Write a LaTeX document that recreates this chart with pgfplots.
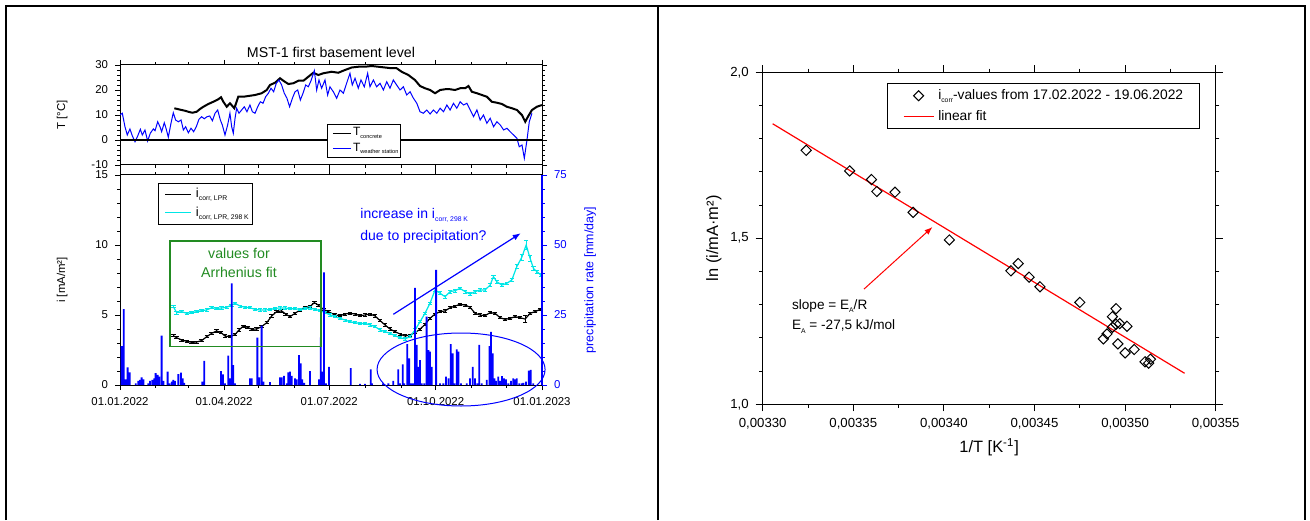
\documentclass[border=0pt]{standalone}
\usepackage{fontspec}
\setmainfont{Liberation Sans}
\usepackage{pgfplots}
\pgfplotsset{compat=1.18}
\usetikzlibrary{arrows.meta}
\definecolor{fitgreen}{RGB}{34,139,34}
\definecolor{icyan}{RGB}{0,230,230}
\newcommand{\sub}[1]{\raisebox{-1.6pt}{\fontsize{3.4}{4}\selectfont #1}}
\newcommand{\tsub}[1]{\raisebox{-1.2pt}{\fontsize{2.8}{3}\selectfont #1}}
\pgfplotsset{
 legTa/.style={legend image code/.code={\path[draw=none] (0pt,0pt) -- (11.6pt,0pt); \draw[draw=black, line width=0.5pt] (2.8pt,0pt) -- (11.6pt,0pt);}},
 legTb/.style={legend image code/.code={\path[draw=none] (0pt,0pt) -- (11.6pt,0pt); \draw[draw=blue, line width=0.5pt] (2.8pt,0pt) -- (11.6pt,0pt);}},
 legIa/.style={legend image code/.code={\path[draw=none] (0pt,0pt) -- (16.65pt,0pt); \draw[draw=black, line width=0.6pt] (3.65pt,0pt) -- (16.65pt,0pt);}},
 legIb/.style={legend image code/.code={\path[draw=none] (0pt,0pt) -- (16.65pt,0pt); \draw[draw=icyan, line width=0.6pt] (3.65pt,0pt) -- (16.65pt,0pt);}},
 legD/.style={legend image code/.code={\path[draw=none] (0pt,0pt) -- (23pt,0pt); \draw[draw=black, fill=white, line width=0.5pt] (15.5pt,2.5pt) -- (18pt,0pt) -- (15.5pt,-2.5pt) -- (13pt,0pt) -- cycle;}},
 legR/.style={legend image code/.code={\path[draw=none] (0pt,0pt) -- (23pt,0pt); \draw[draw=red, line width=0.6pt] (8pt,0pt) -- (23pt,0pt);}},
}
\begin{document}
\begin{tikzpicture}
\useasboundingbox (0,0) rectangle (655pt,260pt);
\draw[line width=1pt] (3pt,0) -- (3pt,256.75pt) -- (652.5pt,256.75pt) -- (652.5pt,0);
\draw[line width=1pt] (329pt,0) -- (329pt,256.75pt);
\node[font=\fontsize{7.1}{8}\selectfont] at (165.5pt,234pt) {MST-1 first basement level};

% ---------- top panel: temperature ----------
\begin{axis}[
 at={(60pt,177.5pt)}, anchor=south west, scale only axis, width=211pt, height=50pt,
 xmin=0, xmax=365, ymin=-10, ymax=30,
 xtick={0,90,181,273,365}, xticklabels={,,,,}, minor xtick={31,59,120,151,212,243,304,334},
 ytick={-10,0,10,20,30}, yticklabels={-10,0,10,20,30}, minor y tick num=4,
 tick align=outside, major tick length=2.5pt, minor tick length=1.3pt,
 tick style={black, line width=0.4pt},
 tick label style={font=\fontsize{5.7}{6}\selectfont},
 axis line style={line width=0.5pt},
 ylabel={T [°C]}, ylabel style={at={(rel axis cs:-0.137,0.5)}, anchor=center, font=\fontsize{5.7}{6}\selectfont},
 legend style={at={(rel axis cs:0.4905,0.41)}, anchor=north west, font=\fontsize{6}{6.5}\selectfont,
   inner xsep=0pt, inner ysep=0.6pt, row sep=0pt, nodes={inner xsep=1pt, inner ysep=1pt}},
 legend cell align=left,
]
\addplot[black, line width=1pt, legTa] coordinates {
(47.0,12.7) (50.5,12.3) (53.3,12.0) (56.2,11.7) (59.1,11.3) (62.6,10.9) (66.3,11.3) (69.2,12.4)
(72.1,13.3) (76.4,14.4) (80.7,15.3) (85.0,16.3) (87.4,17.1) (89.4,15.3) (92.3,13.3) (95.1,14.7)
(98.9,12.7) (102.3,17.3) (106.7,17.3) (111.0,17.6) (116.8,18.0) (122.5,18.7) (126.9,20.0)
(129.7,22.0) (134.1,22.9) (138.4,24.7) (141.3,23.7) (145.6,22.4) (149.9,22.7) (154.2,23.7)
(158.6,23.7) (162.9,25.3) (167.2,26.9) (171.5,26.0) (175.9,26.7) (183.1,27.3) (188.8,26.9)
(194.6,28.0) (200.4,29.0) (206.1,29.3) (211.9,29.3) (217.6,29.6) (223.4,29.3) (229.2,29.0)
(234.9,28.7) (239.3,28.7) (243.6,27.3) (249.4,26.0) (255.1,24.0) (259.5,21.6) (263.8,20.7)
(268.2,20.0) (272.5,18.7) (276.9,20.0) (281.2,20.3) (285.5,20.3) (289.8,20.0) (294.2,20.7)
(298.5,20.7) (301.4,21.6) (304.3,19.3) (308.7,18.7) (313.0,18.0) (317.3,17.3) (321.6,15.3)
(326.0,14.9) (330.3,14.4) (334.6,13.3) (339.0,12.7) (343.3,12.0) (347.6,10.0) (350.5,7.3)
(352.8,9.3) (356.3,12.0) (360.6,13.3) (364.9,14.0)};
\addlegendentry{T\tsub{concrete}}
\addplot[blue, line width=0.5pt, legTb] coordinates {
(0,10) (2.0,10.7) (4.3,5.3) (6.3,2) (8.6,4.4) (10.7,1.6) (13.0,-0.7) (15.3,1.6) (17.6,4.3)
(19.3,2) (21.6,4) (23.9,-0.4) (26.2,2.7) (28.8,4.4) (30.3,3.7) (32.6,7.3) (34.6,5.3) (36.0,3.3)
(38.3,6.9) (39.8,4.7) (41.8,1.1) (44.1,6.7) (46.1,10.9) (48.1,8) (50.5,7.3) (52.8,8) (54.8,4)
(56.8,5.3) (59.1,2.9) (61.4,4.7) (63.7,3.3) (66.0,5.3) (68.3,8.3) (70.6,9.3) (72.9,8.5)
(75.2,9.3) (77.6,9.6) (79.9,7.7) (82.2,10.7) (84.5,12) (86.8,8) (88.5,6) (90.8,2) (93.1,6)
(95.1,10.7) (96.6,5.3) (98.0,2.7) (99.5,8.7) (100.9,12.7) (102.9,10.7) (105.2,12) (107.5,13.3)
(109.8,11.3) (112.4,14) (114.5,11.3) (116.8,10.7) (119.1,13.3) (121.4,15.3) (123.7,14.7)
(126.0,17.3) (128.3,18.7) (130.6,20.7) (132.9,19.3) (135.2,22.7) (137.5,24) (139.8,22)
(142.1,18.7) (144.4,16.7) (146.7,13.3) (149.1,16.7) (151.4,19.3) (153.7,20) (156.0,16)
(158.3,18.7) (160.6,22) (162.9,21.3) (165.2,23.7) (168.1,27.7) (170.1,20) (172.1,24)
(174.4,20.7) (177.3,24) (179.6,18) (181.6,21.3) (184.5,19.3) (187.4,16.7) (190.3,20)
(193.2,18.7) (196.0,22.7) (198.9,26.7) (200.9,22) (203.3,24.7) (206.1,20.7) (208.4,24)
(211.3,21.3) (214.2,26.7) (216.2,21.3) (219.1,24) (222.0,21.3) (224.9,22.7) (227.8,20)
(230.7,23.3) (233.5,20.7) (236.4,24) (239.3,22) (242.2,20) (245.1,21.3) (248.0,18)
(250.9,19.3) (253.8,16.7) (256.7,14.7) (259.5,11.3) (262.4,10.7) (265.3,12) (268.2,10.4)
(271.1,12) (274.0,10.7) (276.9,12.7) (279.8,11.3) (282.7,14) (285.5,12) (288.4,14.7)
(291.3,12.7) (294.2,15.3) (297.1,14) (300.0,14.7) (302.9,12) (305.8,9.3) (308.7,12) (311.5,8)
(314.4,10) (317.3,6.7) (320.2,8.7) (323.1,5.3) (326.0,7.3) (328.9,6) (331.8,4) (334.7,4.7)
(337.5,3.3) (340.4,2) (343.3,0.7) (345.3,-2.7) (347.7,-2) (349.7,-7.3) (352.0,0) (354.0,7.3)
(356.3,10.7)};
\addlegendentry{T\tsub{weather station}}
\addplot[black, line width=0.6pt, forget plot] coordinates {(0,0) (365,0)};
\end{axis}

% ---------- bottom panel: corrosion current ----------
\begin{axis}[
 at={(60pt,67.5pt)}, anchor=south west, scale only axis, width=211pt, height=105pt,
 xmin=0, xmax=365, ymin=0, ymax=15,
 xtick={0,90,181,273,365}, xticklabels={01.01.2022,01.04.2022,01.07.2022,01.10.2022,01.01.2023},
 minor xtick={31,59,120,151,212,243,304,334},
 ytick={0,5,10,15}, yticklabels={0,5,10,15}, minor y tick num=4, ytick pos=left,
 tick align=outside, major tick length=2.5pt, minor tick length=1.3pt,
 tick style={black, line width=0.4pt},
 tick label style={font=\fontsize{5.7}{6}\selectfont},
 axis line style={line width=0.5pt},
 ylabel={i [mA/m²]}, ylabel style={at={(rel axis cs:-0.137,0.5)}, anchor=center, font=\fontsize{5.7}{6}\selectfont},
 legend style={at={(rel axis cs:0.0893,0.963)}, anchor=north west, font=\fontsize{6.5}{7}\selectfont,
   inner xsep=0pt, inner ysep=1pt, row sep=0pt, nodes={inner xsep=2pt, inner ysep=1.5pt}},
 legend cell align=left,
]
\addplot[black, line width=0.6pt, legIa, error bars/.cd, y dir=both, y explicit,
  error bar style={line width=0.4pt}, error mark options={rotate=90, mark size=1.1pt, line width=0.4pt}]
 table[x index=0, y index=1, y error index=2] {
x y e
46.1 3.52 0.08
49.0 3.38 0.08
53.3 3.21 0.08
57.7 3.12 0.08
62.0 3.05 0.08
66.3 3.07 0.08
70.6 3.17 0.08
75.0 3.45 0.08
79.3 3.69 0.08
83.6 3.86 0.08
87.4 3.74 0.08
90.8 3.50 0.08
95.1 3.45 0.08
99.5 3.60 0.08
102.9 3.93 0.08
106.7 4.21 0.08
110.4 4.12 0.08
113.9 3.98 0.08
118.2 4.00 0.08
122.5 4.17 0.08
126.9 4.45 0.08
131.2 4.93 0.08
135.5 5.24 0.08
139.8 5.29 0.08
143.3 5.07 0.08
147.0 4.88 0.08
151.4 5.12 0.08
155.7 5.36 0.08
160.0 5.55 0.08
164.3 5.60 0.08
168.1 5.88 0.08
171.5 5.71 0.08
175.9 5.40 0.08
180.2 5.24 0.08
186.0 5.00 0.08
190.3 4.95 0.08
194.6 5.07 0.08
198.9 5.12 0.08
203.3 5.07 0.08
207.6 4.95 0.08
211.9 5.00 0.08
216.2 5.07 0.08
220.6 4.93 0.08
224.9 4.60 0.08
229.2 4.29 0.08
233.5 4.00 0.08
237.9 3.81 0.08
242.2 3.64 0.08
246.5 3.50 0.08
250.8 3.57 0.08
255.2 3.74 0.08
259.5 3.98 0.08
263.8 4.33 0.08
268.1 4.76 0.08
272.5 5.07 0.08
276.8 5.24 0.08
281.1 5.29 0.08
285.5 5.52 0.08
289.8 5.64 0.08
294.1 5.76 0.08
298.5 5.71 0.08
302.8 5.55 0.08
307.1 5.12 0.08
311.4 5.00 0.08
315.8 4.95 0.08
320.1 5.17 0.08
324.4 5.12 0.08
328.7 4.81 0.08
333.1 4.69 0.08
337.4 4.76 0.08
341.7 4.88 0.08
346.0 4.81 0.08
350.4 4.71 0.25
354.7 5.12 0.08
359.0 5.24 0.08
363.3 5.40 0.08
};
\addlegendentry{i\sub{corr, LPR}}
\addplot[icyan, line width=0.6pt, legIb, error bars/.cd, y dir=both, y explicit,
  error bar style={line width=0.4pt}, error mark options={rotate=90, mark size=1.1pt, line width=0.4pt}]
 table[x index=0, y index=1, y error index=2] {
x y e
46.1 5.60 0.08
49.0 5.17 0.10
53.3 5.24 0.08
57.7 5.12 0.08
62.0 5.17 0.08
66.3 5.24 0.08
70.6 5.31 0.08
75.0 5.36 0.08
79.3 5.52 0.08
83.6 5.48 0.08
87.9 5.50 0.08
92.3 5.55 0.08
96.6 5.71 0.08
99.5 5.83 0.10
103.8 5.64 0.08
108.1 5.55 0.08
112.4 5.52 0.08
116.8 5.40 0.08
121.1 5.36 0.08
125.4 5.36 0.08
129.7 5.38 0.08
134.1 5.48 0.08
138.4 5.50 0.08
142.7 5.50 0.08
147.0 5.45 0.08
151.4 5.45 0.08
155.7 5.40 0.08
160.0 5.45 0.08
164.3 5.50 0.08
168.7 5.40 0.08
173.0 5.31 0.08
177.3 5.17 0.08
181.6 5.00 0.08
186.0 4.88 0.08
190.3 4.76 0.08
194.6 4.64 0.08
198.9 4.52 0.08
203.3 4.45 0.08
207.6 4.40 0.08
211.9 4.40 0.08
216.2 4.29 0.08
220.6 4.17 0.08
224.9 3.93 0.08
229.2 3.81 0.08
233.5 3.69 0.08
237.9 3.52 0.08
242.2 3.38 0.08
246.5 3.29 0.08
250.8 3.45 0.08
255.2 3.93 0.08
259.5 4.52 0.08
263.8 5.12 0.10
268.1 5.83 0.10
272.5 6.79 0.10
276.8 6.55 0.10
281.1 6.31 0.10
285.5 6.67 0.10
289.8 6.74 0.10
294.1 6.90 0.10
298.5 6.67 0.10
302.8 6.50 0.10
307.1 6.67 0.10
311.4 6.79 0.10
315.8 6.79 0.10
320.1 7.14 0.10
323.0 7.74 0.12
325.9 7.38 0.10
330.2 7.14 0.10
334.5 7.26 0.10
338.9 7.50 0.10
343.2 8.45 0.15
347.5 9.12 0.20
351.3 10.00 0.30
354.7 9.05 0.20
357.6 8.33 0.12
360.5 8.10 0.10
364.0 7.86 0.10
};
\addlegendentry{i\sub{corr, LPR, 298 K}}
\end{axis}

% ---------- bottom panel: precipitation (right axis) ----------
\begin{axis}[
 at={(60pt,67.5pt)}, anchor=south west, scale only axis, width=211pt, height=105pt,
 xmin=0, xmax=365, ymin=0, ymax=75,
 axis y line*=right, axis x line=none,
 ytick={0,25,50,75}, yticklabels={0,25,50,75}, minor y tick num=4,
 tick align=outside, major tick length=2.5pt, minor tick length=1.3pt,
 y tick style={blue, line width=0.4pt},
 y axis line style={blue, line width=0.6pt},
 yticklabel style={text=blue, font=\fontsize{5.7}{6}\selectfont},
 ylabel={precipitation rate [mm/day]},
 ylabel style={at={(rel axis cs:1.114,0.5)}, anchor=center, text=blue, font=\fontsize{6.2}{7}\selectfont},
 clip=false,
]
\addplot[ybar, bar width=0.9pt, fill=blue, draw=none] coordinates {
(1.4,13.9) (3.2,27.1) (4.9,2.0) (6.6,6.3) (8.4,4.5) (13.6,0.6) (15.9,1.5) (17.3,1.8) (18.7,2.7)
(20.2,2.0) (24.5,0.6) (25.9,1.5) (28.0,1.8) (29.7,2.4) (30.8,4.2) (32.6,3.6) (34.0,3.0)
(36.0,17.6) (37.5,1.5) (41.2,4.8) (42.7,0.6) (44.7,1.2) (46.1,1.8) (47.6,1.5) (50.5,3.9)
(52.8,4.4) (54.2,2.4) (55.6,0.8) (71.2,1.2) (72.9,8.6) (87.4,5.0) (89.1,3.8) (90.8,0.6)
(93.7,10.5) (95.1,2.4) (96.6,36.3) (98.0,7.1) (99.5,0.6) (112.4,2.4) (113.9,2.4) (118.8,16.9)
(120.5,2.7) (122.5,21.2) (124.0,1.2) (129.7,1.0) (138.4,2.7) (139.8,2.7) (141.8,3.3) (144.2,0.6)
(145.6,4.5) (147.0,4.8) (148.5,3.3) (151.4,2.4) (152.8,2.0) (154.8,10.7) (156.3,7.7) (157.7,2.0)
(159.4,0.8) (164.3,5.0) (172.1,2.0) (173.6,17.0) (175.0,4.8) (176.4,40.2) (178.2,0.6) (180.8,6.5)
(199.5,6.0) (207.6,0.4) (211.9,0.4) (216.8,5.6) (217.9,0.6) (227.5,0.6) (232.1,0.6) (236.4,1.5)
(240.7,5.6) (242.2,0.6) (244.5,7.4) (245.9,0.6) (248.5,14.6) (250.2,9.5) (252.0,0.6) (253.7,0.6)
(255.2,34.7) (256.6,14.3) (258.0,6.5) (259.5,8.9) (260.9,0.6) (263.2,0.6) (265.2,24.4) (266.7,12.5)
(268.1,11.9) (269.6,6.5) (273.4,41.1) (276.8,0.6) (279.7,0.6) (282.0,3.0) (284.1,2.4) (286.1,14.6)
(287.8,11.3) (289.3,0.6) (291.3,12.7) (292.7,11.9) (295.0,0.6) (299.9,0.6) (302.8,2.4) (305.1,6.5)
(307.1,2.4) (309.1,0.6) (310.8,14.3) (312.8,0.6) (317.2,1.8) (319.5,13.9) (320.9,19.0) (322.4,11.3)
(323.8,2.4) (325.2,1.5) (327.2,3.0) (328.7,1.5) (330.4,3.2) (332.2,2.4) (333.9,2.0) (335.9,0.6)
(338.2,1.5) (340.2,2.4) (341.7,2.0) (343.1,2.4) (345.4,0.6) (347.5,0.6) (348.9,0.8) (351.2,1.2)
(353.5,5.1) (355.2,5.4) (357.5,0.6)};
\draw[fitgreen, line width=0.7pt] (axis cs:43.3,13.7) rectangle (axis cs:173.9,51.45);
\node[text=fitgreen, align=center, font=\fontsize{7.1}{9.5}\selectfont] at (axis cs:102.9,43.75) {values for\\Arrhenius fit};
\node[text=blue, align=left, anchor=west, font=\fontsize{7}{10.8}\selectfont, inner sep=0pt] at (axis cs:207.6,56.85) {increase in i\sub{corr, 298 K}\\due to precipitation?};
\draw[blue, line width=0.6pt, -{Latex[length=4pt,width=3pt]}] (axis cs:236.4,25.25) -- (axis cs:346.6,54.2);
\draw[blue, line width=0.5pt] (axis cs:295,5.535) ellipse [x radius=42pt, y radius=18.25pt];
\end{axis}

% ---------- right panel: Arrhenius ----------
\begin{axis}[
 at={(381.35pt,57.85pt)}, anchor=south west, scale only axis, width=226.5pt, height=166pt,
 xmin=0.0033, xmax=0.00355, ymin=1, ymax=2,
 scaled x ticks=false, scaled y ticks=false,
 xtick={0.0033,0.00335,0.0034,0.00345,0.0035,0.00355},
 xticklabels={{0,00330},{0,00335},{0,00340},{0,00345},{0,00350},{0,00355}},
 minor x tick num=1,
 ytick={1,1.5,2}, yticklabels={{1,0},{1,5},{2,0}}, minor y tick num=4,
 tick align=outside, major tick length=3.5pt, minor tick length=1.8pt,
 tick style={black, line width=0.5pt},
 axis line style={line width=0.6pt},
 tick label style={font=\fontsize{6.6}{7}\selectfont},
 xlabel={1/T [K\textsuperscript{-1}]}, ylabel={ln (i/mA·m²)},
 label style={font=\fontsize{8.2}{9}\selectfont},
 xlabel style={at={(rel axis cs:0.5,-0.129)}, anchor=center},
 ylabel style={at={(rel axis cs:-0.108,0.5)}, anchor=center},
 legend style={at={(rel axis cs:0.2745,0.9675)}, anchor=north west, font=\fontsize{6.9}{7.5}\selectfont,
   line width=0.6pt, inner xsep=0pt, inner ysep=0.8pt, row sep=0pt, nodes={inner xsep=2pt, inner ysep=2pt}},
 legend cell align=left,
]
\addplot[only marks, mark=square, mark size=1.8pt, mark options={rotate=45, solid, fill=white, line width=0.5pt, draw=black}, legD] coordinates {
(0.003324,1.765) (0.003348,1.703) (0.003360,1.677) (0.003363,1.641) (0.003373,1.639)
(0.003383,1.578) (0.003403,1.495) (0.003437,1.402) (0.003441,1.424) (0.003447,1.383)
(0.003453,1.354) (0.003475,1.307) (0.003495,1.288) (0.003493,1.264) (0.003497,1.243)
(0.003501,1.235) (0.003495,1.241) (0.003493,1.232) (0.003490,1.212) (0.003488,1.197)
(0.003496,1.182) (0.003500,1.155) (0.003505,1.165) (0.003511,1.128) (0.003513,1.124)
(0.003514,1.136)};
\addlegendentry{i\sub{corr}-values from 17.02.2022 - 19.06.2022\hspace*{6pt}}
\addplot[red, line width=0.6pt, legR] coordinates {(0.0033055,1.845) (0.0035328,1.0935)};
\addlegendentry{linear fit}
\draw[red, line width=0.5pt, -{Latex[length=4pt,width=3pt]}] (axis cs:0.0033559,1.347) -- (axis cs:0.0033937,1.534);
\node[anchor=west, align=left, font=\fontsize{6.8}{10.3}\selectfont, inner sep=0pt] at (axis cs:0.003316,1.265) {slope = E\sub{A}/R\\E\sub{A} = -27,5 kJ/mol};
\end{axis}
\end{tikzpicture}
\end{document}
